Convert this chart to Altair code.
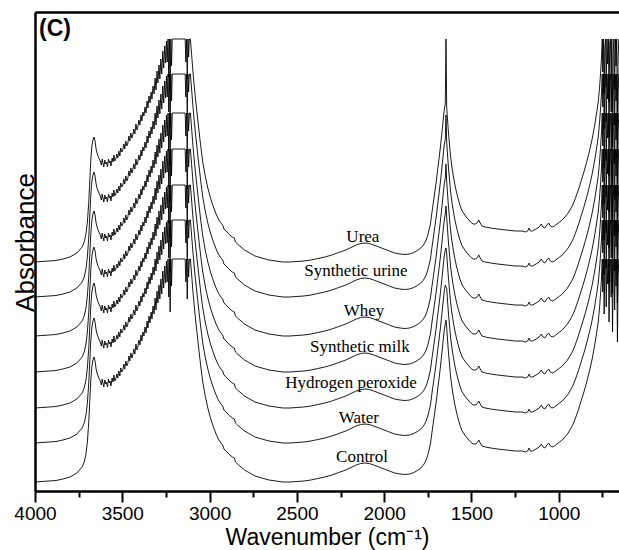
import altair as alt
import pandas as pd

# ---- trace metadata (top to bottom) ----
samples = ["Urea", "Synthetic urine", "Whey", "Synthetic milk",
           "Hydrogen peroxide", "Water", "Control"]
offsets = [229, 194, 155, 119, 83, 48, 9]          # stacking offset (a.u.)
peak_1646 = [223, 182, 172, 166, 160, 156, 162]    # amide I tip of each trace (a.u.)
label_wn = [2122, 2162, 2116, 2139, 2190, 2145, 2127]
label_y = [249, 215, 175, 139, 103, 68, 29]

# ---- shared spectrum shape (wavenumber, absorbance a.u.) ----
seg_free_oh = [(4000, 0), (3960, 0.5), (3920, 1), (3880, 1.5), (3840, 3), (3800, 5),
               (3780, 7), (3760, 9), (3745, 12), (3730, 15), (3718, 20), (3708, 28),
               (3700, 40), (3692, 60), (3686, 82), (3680, 103), (3674, 116), (3668, 122),
               (3662, 125), (3656, 121), (3650, 113), (3643, 108), (3634, 104)]

seg_oh_band = [(3626, 101), (3620, 97), (3615, 103), (3611, 99), (3606, 95), (3600, 102),
               (3596, 98), (3590, 100), (3585, 95), (3579, 103), (3574, 99), (3570, 101),
               (3565, 96), (3558, 104), (3553, 100), (3548, 107), (3543, 101), (3537, 103),
               (3531, 108), (3526, 104), (3520, 111), (3514, 106), (3509, 114), (3503, 110),
               (3497, 112), (3491, 118), (3486, 113), (3480, 121), (3474, 116), (3468, 119),
               (3462, 126), (3457, 121), (3451, 129), (3445, 124), (3440, 127), (3434, 133),
               (3428, 128), (3422, 138), (3416, 132), (3411, 135), (3405, 142), (3399, 137),
               (3393, 147), (3388, 141), (3382, 150), (3376, 146), (3370, 155), (3364, 149),
               (3358, 161), (3353, 154), (3347, 166), (3341, 159), (3335, 170), (3330, 163),
               (3324, 176), (3318, 168), (3312, 184), (3307, 172), (3301, 191), (3296, 179),
               (3290, 197), (3285, 183), (3279, 203), (3274, 188), (3268, 211), (3263, 194),
               (3257, 216), (3252, 199), (3247, 221), (3243, 200)]

seg_saturated = [(3238, 223), (3234, 185), (3230, 223), (3226, 170), (3222, 223), (3218, 196),
                 (3214, 223), (3210, 223), (3140, 223), (3136, 200), (3132, 223), (3128, 183),
                 (3124, 223), (3120, 205), (3116, 223), (3110, 223)]

seg_ch = [(3104, 210), (3096, 192), (3088, 176), (3080, 162), (3070, 146), (3060, 130),
          (3050, 115), (3040, 101), (3025, 86), (3010, 74), (2995, 64), (2980, 56),
          (2965, 49), (2950, 43), (2935, 39), (2925, 37), (2918, 33), (2905, 31),
          (2890, 28), (2870, 25), (2858, 24), (2852, 20), (2840, 18), (2820, 15),
          (2800, 12), (2770, 9), (2740, 6), (2700, 4), (2660, 2), (2620, 1),
          (2580, 0), (2540, 0), (2500, 0.5)]

seg_mid = [(2460, 1), (2420, 2), (2380, 3.5), (2340, 5), (2300, 7), (2260, 9.5),
           (2220, 12), (2190, 14.5), (2160, 17), (2135, 18.5), (2110, 19), (2085, 18.5),
           (2060, 17), (2030, 15), (2000, 13), (1970, 11), (1940, 9), (1910, 8),
           (1880, 7.5), (1855, 8), (1830, 9.5), (1810, 11.5), (1790, 14), (1775, 17),
           (1762, 21), (1750, 27), (1742, 33), (1735, 38), (1726, 50), (1718, 60),
           (1710, 70), (1702, 80), (1694, 92), (1686, 103), (1678, 115), (1670, 128),
           (1662, 142), (1656, 152), (1650, 158)]

seg_amide = [(1642, 155), (1637, 142), (1632, 130), (1626, 118), (1620, 106), (1612, 95),
             (1604, 86), (1596, 78), (1586, 70), (1576, 63), (1566, 57), (1556, 52),
             (1546, 49), (1534, 46), (1520, 43), (1505, 40), (1490, 38), (1475, 38),
             (1465, 40), (1458, 42), (1450, 39), (1440, 36), (1420, 35), (1390, 34),
             (1350, 33), (1300, 32), (1250, 31), (1210, 31), (1190, 30), (1178, 31),
             (1170, 34), (1162, 31), (1150, 31), (1130, 33), (1112, 35), (1100, 38),
             (1090, 35), (1080, 34), (1068, 37), (1058, 39), (1048, 36), (1038, 35),
             (1025, 36), (1010, 38), (995, 40), (980, 42), (965, 45), (950, 48),
             (936, 52), (920, 57), (904, 64), (888, 72), (872, 81), (856, 90),
             (840, 100), (824, 111), (810, 122), (796, 135), (784, 148), (774, 160),
             (766, 175), (760, 190), (755, 205), (751, 223)]

seg_low_sat = [(748, 190), (744, 223), (740, 168), (736, 215), (732, 223), (728, 175),
               (724, 223), (720, 198), (716, 223), (712, 160), (708, 220), (704, 223),
               (700, 185), (696, 223), (692, 150), (688, 210), (684, 223), (680, 172),
               (676, 223), (672, 196), (668, 223), (664, 140), (660, 205), (656, 223)]

x_major = [4000, 3500, 3000, 2500, 2000, 1500, 1000]
x_minor = [3750, 3250, 2750, 2250, 1750, 1250, 750]

shape = seg_free_oh + seg_oh_band + seg_saturated + seg_ch + seg_mid + seg_amide + seg_low_sat

rows = []
for s, off, pk in zip(samples, offsets, peak_1646):
    for w, a in shape + [(1646, pk)]:
        rows.append({"sample": s, "wn": w, "A": a + off})
df = pd.DataFrame(rows)

lab = pd.DataFrame({"sample": samples, "wn": label_wn, "A": label_y})

xscale = alt.Scale(domain=[4000, 655], nice=False, zero=False)
yscale = alt.Scale(domain=[0, 479], nice=False, zero=False)
SANS = "Liberation Sans"

lines = alt.Chart(df).mark_line(color="black", strokeWidth=0.9, clip=True).encode(
    x=alt.X("wn:Q", scale=xscale, axis=alt.Axis(
        values=x_major, format="d", tickSize=11, tickWidth=2, tickColor="black",
        domainWidth=2.5, domainColor="black", labelFont=SANS, labelFontSize=19,
        labelColor="black", labelPadding=2, labelFlush=False, labelOverlap=False,
        grid=False, title="Wavenumber (cm\u207b\u00b9)", titleFont=SANS,
        titleFontSize=23, titleFontWeight="normal", titleColor="black",
        titleX=292, titleY=53, titleAlign="center", titleBaseline="alphabetic")),
    y=alt.Y("A:Q", scale=yscale, axis=alt.Axis(
        ticks=False, labels=False, grid=False, domainWidth=2.5, domainColor="black",
        title="Absorbance", titleFont=SANS, titleFontSize=26, titleFontWeight="normal",
        titleColor="black", titleX=-2, titleY=230, titleAngle=270,
        titleAlign="center", titleBaseline="alphabetic")),
    detail="sample:N",
    order="wn:Q",
)

labels = alt.Chart(lab).mark_text(
    font="Liberation Serif", fontSize=17, color="black",
    align="center", baseline="alphabetic").encode(
    x=alt.X("wn:Q", scale=xscale, axis=alt.Axis(
        orient="top", ticks=False, labels=False, grid=False, domainWidth=2.5,
        domainColor="black", title=None)),
    y=alt.Y("A:Q", scale=yscale, axis=None),
    text="sample:N",
)

minor = alt.Chart(lab).mark_point(opacity=0).encode(
    x=alt.X("wn:Q", scale=xscale, axis=alt.Axis(
        values=x_minor, tickSize=6, tickWidth=2, tickColor="black", labels=False,
        domain=False, grid=False, title=None)),
    y=alt.Y("A:Q", scale=yscale, axis=None),
)

chart = alt.layer(lines, labels, minor).resolve_axis(x="independent", y="independent").properties(
    width=584, height=479,
    autosize=alt.AutoSizeParams(type="none"),
    padding={"left": 35, "top": 12, "right": 0, "bottom": 59},
    background="white",
    title=alt.TitleParams("(C)", anchor="start", frame="group", offset=-47, dx=4,
                          fontSize=23, fontWeight="bold", font=SANS, color="black",
                          baseline="alphabetic"),
).configure_view(stroke=None)

chart.save("out.html", embed_options={"renderer": "svg", "actions": False})
